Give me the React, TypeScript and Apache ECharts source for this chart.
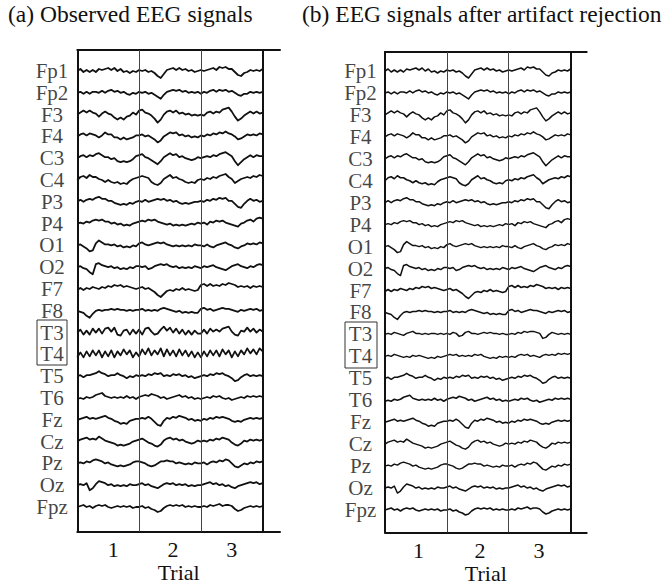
import React, { useEffect, useRef } from 'react';
import * as echarts from 'echarts';

// ---------- categories / tick labels ----------
const CHANNELS = ['Fp1', 'Fp2', 'F3', 'F4', 'C3', 'C4', 'P3', 'P4', 'O1', 'O2', 'F7', 'F8', 'T3', 'T4', 'T5', 'T6', 'Fz', 'Cz', 'Pz', 'Oz', 'Fpz'];
const TRIAL_LABELS = ['1', '2', '3'];
const TRIAL_BOUNDARIES = [1, 2, 3];
const TICK_POS_A = [0.58, 1.55, 2.5];
const TICK_POS_B = [0.54, 1.535, 2.49];
const SAMPLES_PER_TRIAL = 20;

// ---------- traces (offset from channel baseline, 20 samples per trial) ----------
const FP1 = [0,2,-1,1,-1,1,-1,2,1,2, 3,1,3,0,2,-1,0,-2,0,-1, 1,0,1,-1,0,-2,-5,-7,-3,1, 2,3,1,3,1,2,0,1,-1,0, 1,0,1,2,3,1,4,3,4,2, 2,-1,-4,-5,-2,-1,1,0,1,0,2];
const FP2 = [0,1,-1,1,-1,1,1,0,2,0, 2,3,1,2,0,1,-1,-2,0,-1, 1,0,1,-1,0,-2,-4,-6,-2,1, 2,3,2,3,1,2,0,1,0,1, -1,1,0,2,3,1,3,2,3,1, 2,0,-2,-3,-1,-1,1,0,1,0,1];
const F3 = [0,2,4,2,4,2,1,-2,1,3, 1,0,-3,-5,-3,-5,-2,-1,2,0, 4,5,2,1,-1,-4,-8,-5,0,3, 4,2,4,1,2,0,1,-1,0,-1, 0,-1,2,3,1,3,2,5,6,7, 3,-2,-6,-4,-1,1,3,1,3,1,2];
const F4 = [0,2,3,1,3,2,1,-1,1,4, 2,2,-1,-1,-3,-1,-3,-2,-1,1, 1,2,0,1,-1,-3,-6,-4,0,2, 4,3,4,1,2,0,1,-1,0,-1, 1,0,2,1,3,2,4,3,5,3, 2,0,-3,-2,0,2,1,2,1,3,2];
const C3 = [0,2,3,1,3,2,4,5,3,1, 1,-1,0,-3,-4,-3,-4,-3,-1,2, 3,4,1,0,-2,-4,-6,-3,1,3, 5,3,4,1,2,0,-1,-2,-1,1, 0,1,2,1,3,2,4,5,6,4, 2,-3,-7,-4,-1,1,3,1,3,2,2];
const C4 = [0,3,4,2,5,3,3,1,0,-2, 0,-2,-3,-2,-4,-3,-4,-1,1,2, 3,4,3,2,-2,-4,-5,-3,1,3, 5,2,3,1,0,-2,-3,-2,-3,0, 1,0,2,1,3,2,4,5,6,3, 1,-3,-1,1,2,3,2,4,3,5,4];
const P3 = [0,2,0,2,3,2,4,5,3,3, 1,1,-1,-2,-3,-2,-3,-1,-2,0, 1,0,2,0,1,2,3,2,3,1, 2,0,1,-1,-2,-1,-2,-1,0,0, 1,0,2,1,3,2,4,3,4,1, 1,-2,-5,-6,-2,1,3,1,2,0,1];
const P4 = [0,1,0,2,1,3,4,3,4,2, 2,0,1,-1,0,-2,-1,-2,0,1, 2,3,2,4,3,4,2,1,0,-1, 0,-2,-1,-2,-1,-2,-1,0,-1,1, 0,1,-1,2,1,3,2,3,1,0, -1,-2,-3,0,1,3,4,2,5,6,5];
const O1 = [0,1,-1,-3,-6,-5,2,5,3,1, 1,0,1,-1,0,-2,-1,-2,0,-1, 2,3,1,0,1,2,3,2,3,1, 0,-1,0,-1,0,-1,0,-1,1,0, 0,-1,1,-1,-2,0,1,2,3,1, 0,-2,-3,-1,0,2,1,2,1,3,2];
const O2 = [0,1,-1,-2,-5,-7,3,4,2,1, 0,1,-1,0,-2,-1,-2,0,-1,1, 1,0,1,-2,-1,1,2,3,2,3, 1,0,1,-1,0,-1,0,-1,1,0, -1,1,0,1,2,0,-1,-2,-3,-1, 1,2,3,1,0,-1,1,0,2,3,2];
const F7 = [-1,1,-1,1,0,2,1,0,2,1, 3,2,4,3,4,2,3,2,1,0, 1,2,0,1,-1,-3,-6,-8,-5,-2, -1,-2,0,-1,1,-1,0,-1,-2,-1, 4,5,3,5,3,4,3,5,4,6, 5,4,2,3,2,3,1,3,2,3,2];
const F8 = [0,-1,-2,-5,-7,-3,0,1,0,1, 1,2,1,2,1,1,0,1,0,1, 1,2,0,1,0,1,0,2,3,2, 1,0,-1,0,-2,-1,-2,-1,-2,-2, 2,3,1,2,0,1,2,3,2,2, 1,0,-1,1,0,1,2,1,2,0,1];
const T3_OBSERVED = [0,3,-2,2,-2,4,0,4,-1,4, 5,1,5,-2,-3,2,3,-2,3,-1, 3,-2,4,5,1,-2,-1,3,6,2, 5,0,4,-1,3,-2,2,-2,2,-1, -1,3,-1,4,1,3,1,4,5,6, 1,-2,-3,2,1,5,1,4,0,3,1];
const T4_OBSERVED = [-3,2,-3,3,-2,4,-1,4,-3,3, -2,4,-3,3,-1,5,0,4,-3,2, -2,5,0,6,-1,4,0,6,-2,5, -1,4,-2,5,-1,4,-2,3,-3,2, -3,3,-2,4,-1,4,-2,5,0,4, -3,3,-2,4,0,6,1,5,0,6,3];
const T3_CLEANED = [0,1,0,2,1,0,-1,1,2,3, 1,1,0,1,0,1,1,0,1,0, 1,0,2,1,-2,-1,2,3,1,1, 0,1,2,1,2,1,1,0,1,0, 0,1,0,2,1,3,2,3,3,2, 1,-4,-3,0,2,1,0,1,0,1,0];
const T4_CLEANED = [0,1,0,2,1,0,-1,0,-1,1, 0,1,0,-1,-2,-1,-2,0,-1,0, 1,2,1,2,0,1,0,1,0,2, 1,2,0,-1,-2,-1,-2,0,-1,0, -1,0,-1,1,2,1,2,0,1,0, -1,1,2,1,2,1,3,2,3,2,3];
const T5 = [0,1,-1,1,1,2,3,5,3,2, 0,1,1,3,1,0,-2,0,-1,1, 0,1,0,2,1,3,2,3,0,1, 0,2,1,2,0,1,-1,0,-2,-1, 0,1,0,2,1,3,2,3,1,0, -2,-5,-4,-1,1,2,0,1,0,1,0];
const T6 = [-1,0,-1,1,0,1,3,4,5,2, 1,0,1,0,1,0,2,0,1,-1, 1,2,3,2,4,3,2,0,1,-1, 0,1,2,3,1,2,0,1,-1,0, -1,0,1,0,2,1,2,0,-1,0, -2,-1,0,1,0,2,1,2,1,2,1];
const FZ = [0,1,2,3,1,2,1,2,3,4, 2,1,-1,-2,-4,-3,-4,-1,0,1, 1,2,1,3,1,-2,-5,-6,-1,2, 1,3,2,4,3,2,0,1,-1,0, -1,1,0,2,1,3,2,3,2,1, -1,-2,-1,-2,0,1,2,1,2,1,2];
const CZ = [0,2,3,4,2,3,2,5,3,1, 0,-1,-2,-4,-3,-4,-3,-2,0,1, 2,3,1,-1,-2,-4,-5,-3,1,3, 4,2,3,1,2,0,-1,-2,-1,1, 0,1,0,2,1,3,2,4,3,2, -1,-3,-4,-2,1,0,2,1,2,1,2];
const PZ = [0,1,0,2,1,3,4,3,2,0, 1,-1,-2,-3,-2,-3,-2,-1,1,2, 2,1,0,-2,-3,-2,0,2,2,3, 2,2,0,1,0,-1,0,-1,1,0, 0,1,-1,1,2,1,3,2,4,3, 0,-3,-4,-2,0,-1,1,0,2,1,2];
const OZ = [0,1,0,2,-5,-3,1,4,3,2, 0,1,-1,0,-1,0,-1,1,0,0, 1,2,0,1,-1,-2,-3,-1,1,2, 1,2,0,1,0,1,-1,0,-1,0, 0,1,2,3,1,2,0,1,-1,0, -2,-3,-1,0,1,2,3,2,3,1,2];
const FPZ = [0,1,2,0,1,-1,1,2,1,2, 0,-1,0,1,0,1,0,1,-1,0, 0,1,-1,0,-2,-3,-5,-4,-1,1, 2,1,2,1,2,0,1,0,1,0, 0,1,0,2,1,2,3,1,2,2, 1,-2,-4,-3,-1,0,1,0,1,0,1];

const OBSERVED = [FP1, FP2, F3, F4, C3, C4, P3, P4, O1, O2, F7, F8, T3_OBSERVED, T4_OBSERVED, T5, T6, FZ, CZ, PZ, OZ, FPZ];
const CLEANED = [FP1, FP2, F3, F4, C3, C4, P3, P4, O1, O2, F7, F8, T3_CLEANED, T4_CLEANED, T5, T6, FZ, CZ, PZ, OZ, FPZ];

const FONT = "'Liberation Serif', 'Times New Roman', serif";
const INK = '#111';

const PANELS = [
  {
    title: '(a) Observed EEG signals', titleLeft: 8,
    left: 77.3, top: 50, width: 202.7, height: 481.7,
    bottomPad: 24.7, spacing: 21.8, xMax: 3.28, ticks: TICK_POS_A,
    labelMargin: 7, nameGap: 30, yMargin: 25.3, lineWidth: 1.8,
    traces: OBSERVED, box: { x: 37, y: 320, w: 30, h: 45 },
  },
  {
    title: '(b) EEG signals after artifact rejection', titleLeft: 302,
    left: 385, top: 52, width: 201.7, height: 480.3,
    bottomPad: 22.3, spacing: 21.95, xMax: 3.26, ticks: TICK_POS_B,
    labelMargin: 7, nameGap: 30, yMargin: 24.5, lineWidth: 1.5,
    traces: CLEANED, box: { x: 345, y: 322, w: 32, h: 46 },
  },
];

function buildOption() {
  const grid: any[] = [];
  const xAxis: any[] = [];
  const yAxis: any[] = [];
  const series: any[] = [];
  const title: any[] = [];
  const graphic: any[] = [];

  PANELS.forEach((p, gi) => {
    grid.push({
      left: p.left, top: p.top, width: p.width, height: p.height,
      containLabel: false, outerBoundsMode: 'none',
    });
    title.push({
      text: p.title, left: p.titleLeft, top: 2, padding: 0,
      textStyle: { fontSize: 23.5, fontWeight: 'normal', fontFamily: FONT, color: INK },
    });
    const bases = CHANNELS.map((_, i) => p.bottomPad + (CHANNELS.length - 1 - i) * p.spacing);
    xAxis.push({
      type: 'value', gridIndex: gi, position: 'bottom', min: 0, max: p.xMax,
      axisLine: { show: true, onZero: false, lineStyle: { color: INK, width: 2 } },
      axisTick: { show: false }, splitLine: { show: false },
      axisLabel: {
        customValues: p.ticks, margin: p.labelMargin,
        showMinLabel: true, showMaxLabel: true,
        formatter: (v: number) => {
          const idx = p.ticks.findIndex((t) => Math.abs(t - v) < 1e-6);
          return idx >= 0 ? TRIAL_LABELS[idx] : '';
        },
        fontSize: 22, lineHeight: 22, fontFamily: FONT, color: INK,
      },
      name: 'Trial', nameLocation: 'middle', nameGap: p.nameGap, nameMoveOverlap: false,
      nameTextStyle: { fontSize: 22, lineHeight: 22, fontFamily: FONT, color: INK },
    });
    xAxis.push({
      type: 'value', gridIndex: gi, position: 'top', min: 0, max: p.xMax,
      axisLine: { show: true, onZero: false, lineStyle: { color: INK, width: 2 } },
      axisTick: { show: false }, splitLine: { show: false }, axisLabel: { show: false },
    });
    yAxis.push({
      type: 'value', gridIndex: gi, min: 0, max: p.height,
      axisLine: { show: true, onZero: false, lineStyle: { color: INK, width: 2 } },
      axisTick: { show: false }, splitLine: { show: false }, axisLabel: { show: false },
    });
    // channel names, one per baseline
    series.push({
      type: 'scatter', xAxisIndex: gi * 2, yAxisIndex: gi, silent: true, clip: false,
      symbolSize: 1, itemStyle: { color: 'rgba(0,0,0,0)' },
      data: CHANNELS.map((name, i) => ({ name, value: [0, bases[i]] })),
      label: {
        show: true, formatter: '{b}', position: [-p.yMargin + 0.5, 0.5],
        align: 'center', verticalAlign: 'middle',
        fontSize: 21, lineHeight: 20, fontFamily: FONT, color: INK,
      },
      labelLayout: { hideOverlap: false },
      z: 5,
    });
    p.traces.forEach((trace, ci) => {
      const s: any = {
        type: 'line', xAxisIndex: gi * 2, yAxisIndex: gi,
        data: trace.map((v, k) => [k / SAMPLES_PER_TRIAL, bases[ci] + v]),
        symbol: 'none', showSymbol: false, silent: true,
        lineStyle: { color: INK, width: p.lineWidth, join: 'round' },
      };
      if (ci === 0) {
        s.markLine = {
          silent: true, symbol: ['none', 'none'], label: { show: false },
          data: TRIAL_BOUNDARIES.map((b, bi) => ({
            xAxis: b,
            lineStyle: bi === TRIAL_BOUNDARIES.length - 1
              ? { color: INK, width: 2, type: 'solid' }
              : { color: '#444', width: 1, type: 'solid' },
          })),
        };
      }
      series.push(s);
    });
    graphic.push({
      type: 'rect', shape: { x: p.box.x, y: p.box.y, width: p.box.w, height: p.box.h },
      style: { fill: 'none', stroke: '#333', lineWidth: 1 }, silent: true,
    });
  });

  return { animation: false, backgroundColor: '#fff', title, grid, xAxis, yAxis, series, graphic };
}

export default function App() {
  const ref = useRef<HTMLDivElement>(null);
  useEffect(() => {
    if (!ref.current) return;
    const chart = echarts.init(ref.current, undefined, { renderer: 'svg' });
    chart.setOption(buildOption() as any);
    return () => chart.dispose();
  }, []);
  return (
    <div
      ref={ref}
      style={{ position: 'fixed', left: 0, top: 0, width: 672, height: 585, background: '#fff' }}
    />
  );
}
